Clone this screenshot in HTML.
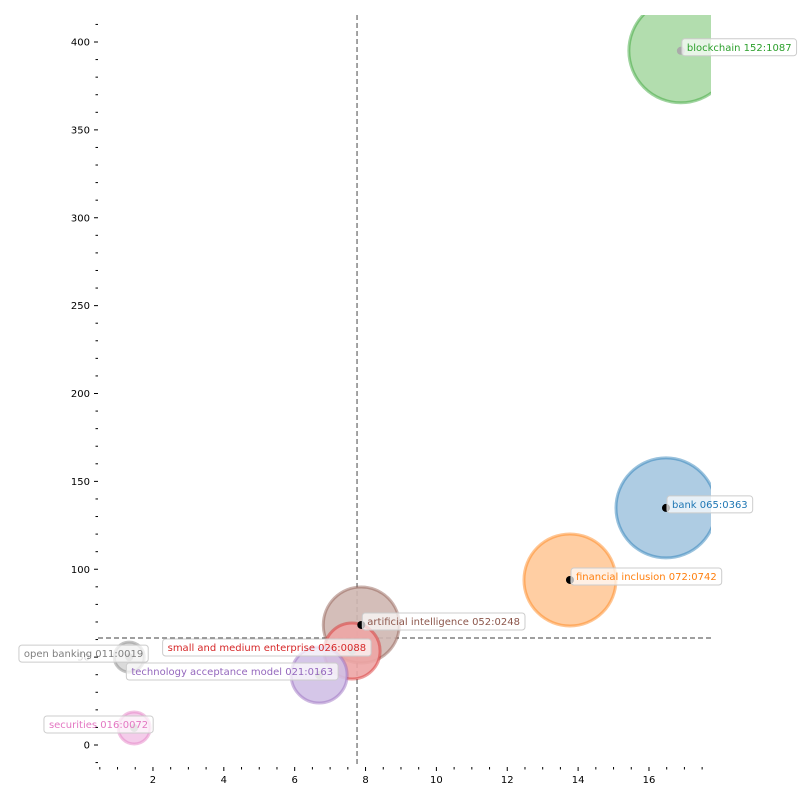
<!DOCTYPE html>
<html><head><meta charset="utf-8"><style>
body{margin:0;background:#fff}
svg text{font-family:"DejaVu Sans","Liberation Sans",sans-serif}
</style></head><body>
<svg id="chart" width="800" height="800" xmlns="http://www.w3.org/2000/svg">
<defs><clipPath id="pc"><rect x="98" y="15" width="613" height="752"/></clipPath></defs>
<g id="grid"></g><g id="bubbles" clip-path="url(#pc)"></g><g id="marks"></g><g id="labels"></g><g id="axes"></g>
</svg>
<script>
const names=["blockchain","bank","financial inclusion","artificial intelligence","small and medium enterprise","technology acceptance model","open banking","securities"];
const codes=["152:1087","065:0363","072:0742","052:0248","026:0088","021:0163","011:0019","016:0072"];
const xs=[16.9,16.48,13.77,7.88,7.62,6.69,1.33,1.47];
const ys=[395,134.9,93.9,68.3,53.5,39.8,50,9.7];
const radii=[52,50,46,38,28,28,15,16];
const dotBlack=[false,true,true,true,false,false,false,false];
const labelLeft=[false,false,false,false,true,true,true,true];
const colors=["#2ca02c","#1f77b4","#ff7f0e","#8c564b","#d62728","#9467bd","#7f7f7f","#e377c2"];
const fills=["#aad9a5","#a5c7e0","#ffc999","#cfb7b1","#eda5a5","#d0c0e6","#d6d6d6","#f3c6e8"];
const xTicks=[2,4,6,8,10,12,14,16];
const yTicks=[0,50,100,150,200,250,300,350,400];
const vLine=7.76, hLine=60.9;
const X=v=>82.1+v*35.43, Y=v=>745-v*1.7575;
const NS="http://www.w3.org/2000/svg";
function mk(tag,attrs,parent){const e=document.createElementNS(NS,tag);for(const k in attrs)e.setAttribute(k,attrs[k]);document.getElementById(parent).appendChild(e);return e;}
let l=mk('line',{x1:X(vLine),x2:X(vLine),y1:15,y2:767,stroke:'#666','stroke-dasharray':'5,3','stroke-width':1.2},'grid');

l=mk('line',{x1:98,x2:711,y1:Y(hLine),y2:Y(hLine),stroke:'#666','stroke-dasharray':'5,3','stroke-width':1.2},'grid');

names.forEach((n,i)=>{
  const cx=X(xs[i]),cy=Y(ys[i]);
  const c=mk('circle',{cx,cy,r:radii[i],fill:fills[i],'fill-opacity':0.9,stroke:colors[i],'stroke-opacity':0.45,'stroke-width':3},'bubbles');
  
  
  const d=mk('circle',{cx,cy,r:4,fill:dotBlack[i]?'#000':'#aaa'},'marks');
  
  
  const txt=n+' '+codes[i];
  const g=mk('g',{},'labels');
  
  
  const t=document.createElementNS(NS,'text');
  t.textContent=txt;t.setAttribute('font-size','10');t.setAttribute('fill',colors[i]);
  g.appendChild(t);
  const w=t.getComputedTextLength?t.getComputedTextLength():txt.length*6;
  let tx=labelLeft[i]?cx-w+14:cx+6;
  t.setAttribute('x',tx);t.setAttribute('y',cy);
  const r=document.createElementNS(NS,'rect');
  r.setAttribute('x',tx-5);r.setAttribute('y',cy-12);r.setAttribute('width',w+10);r.setAttribute('height',17);
  r.setAttribute('rx',3);r.setAttribute('fill','#fff');r.setAttribute('fill-opacity',0.7);r.setAttribute('stroke','#ccc');
  g.insertBefore(r,t);
});
for(let v=0.5;v<=17.6;v+=0.5){const big=xTicks.includes(v);
  const t=mk('line',{x1:X(v),x2:X(v),y1:767,y2:767+(big?4:2.5),stroke:'#000'},'axes');
  }
xTicks.forEach(v=>{const t=mk('text',{x:X(v),y:783,'font-size':10,'text-anchor':'middle'},'axes');t.textContent=v;
  });
for(let v=-10;v<=410;v+=10){const big=yTicks.includes(v);
  const t=mk('line',{x1:98-(big?4:2.5),x2:98,y1:Y(v),y2:Y(v),stroke:'#000'},'axes');
  }
yTicks.forEach(v=>{const t=mk('text',{x:90,y:Y(v)+3.5,'font-size':10,'text-anchor':'end'},'axes');t.textContent=v;
  if(v===50)t.setAttribute('fill-opacity','0.15');
  });
</script>
</body></html>
